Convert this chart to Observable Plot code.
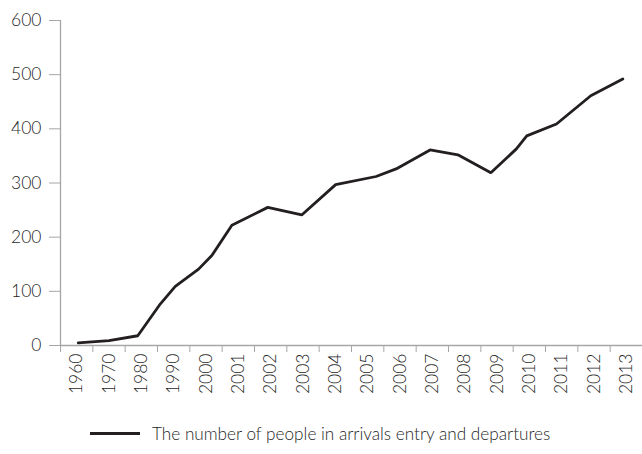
<!DOCTYPE html>
<html>
<head>
<meta charset="utf-8">
<script src="https://cdn.jsdelivr.net/npm/d3@7"></script>
<script src="https://cdn.jsdelivr.net/npm/@observablehq/plot@0.6"></script>
<style>
  body { margin: 0; background: #fff; font-family: Lato, "Open Sans", sans-serif; }
  #legend { display: flex; align-items: center; height: 46px; padding-left: 90px; font-size: 17.2px; color: #1f1f1f; font-weight: 300; }
  #legend .swatch { width: 50px; height: 0; border-top: 3px solid #231f20; margin-right: 12px; }
</style>
</head>
<body>
<div id="chart"></div>
<div id="legend"><span class="swatch"></span><span>The number of people in arrivals entry and departures</span></div>
<script>
// Category labels on the x axis
const years = ["1960","1970","1980","1990","2000","2001","2002","2003","2004","2005","2006","2007","2008","2009","2010","2011","2012","2013"];
// Observation positions along the category axis (category index units) and values
const positions = [0.05, 1.0, 1.89, 2.59, 3.05, 3.77, 4.18, 4.80, 5.91, 6.96, 8.01, 9.26, 9.88, 10.93, 11.79, 12.81, 13.6, 13.92, 14.84, 15.9, 16.89];
const values    = [5,    9,   18,   77,   109,  141,  166,  222,  255,  241,  297,  312,  326,  361,   352,   319,   363,  387,   409,   461,  492];
const yTicks = [0, 100, 200, 300, 400, 500, 600];

const data = positions.map((p, i) => ({pos: p, value: values[i]}));
const centers = years.map((_, i) => i);
const boundaries = d3.range(years.length + 1).map(i => i - 0.5);

const grey = "#a6a6a6";
const chart = Plot.plot({
  width: 642,
  height: 410,
  marginLeft: 60,
  marginRight: 0,
  marginTop: 20,
  marginBottom: 65,
  style: {fontFamily: "Lato, 'Open Sans', sans-serif", fontSize: "17px", color: "#1f1f1f", fontWeight: 300},
  x: {domain: [-0.5, years.length - 0.5], axis: null},
  y: {domain: [0, 600], axis: null},
  marks: [
    Plot.axisY(yTicks, {tickSize: 11, tickPadding: 8, stroke: grey, fontSize: 17.5, fill: "#1f1f1f", label: null}),
    Plot.axisX(boundaries, {tickSize: 7, tickFormat: () => "", stroke: grey, label: null}),
    Plot.axisX(centers, {tickSize: 0, tickPadding: 8, tickRotate: -90, tickFormat: i => years[i], fontSize: 17.5, fill: "#1f1f1f", label: null}),
    Plot.ruleY([0], {stroke: grey, strokeWidth: 1.3}),
    Plot.ruleX([-0.5], {y1: 0, y2: 600, stroke: grey, strokeWidth: 1.3}),
    Plot.line(data, {x: "pos", y: "value", stroke: "#231f20", strokeWidth: 2.8, strokeLinejoin: "miter"})
  ]
});
document.getElementById("chart").appendChild(chart);
</script>
</body>
</html>
